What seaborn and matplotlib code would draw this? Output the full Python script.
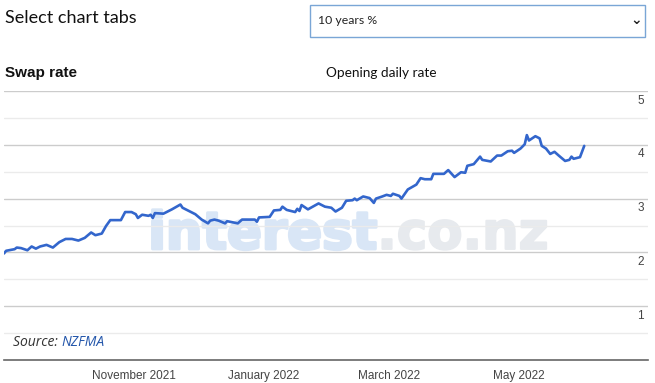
import matplotlib
matplotlib.use("Agg")
import matplotlib.pyplot as plt
import matplotlib.transforms as mtransforms
import matplotlib.patheffects as pe
from matplotlib.patches import Rectangle
import seaborn as sns
import pandas as pd
import numpy as np

dates = [
    "2021-09-01", "2021-09-02", "2021-09-06", "2021-09-07", "2021-09-09", "2021-09-12",
    "2021-09-14", "2021-09-16", "2021-09-18", "2021-09-21", "2021-09-24", "2021-09-27",
    "2021-09-30", "2021-10-03", "2021-10-06", "2021-10-09", "2021-10-12", "2021-10-14",
    "2021-10-17", "2021-10-19", "2021-10-21", "2021-10-26", "2021-10-28", "2021-10-31",
    "2021-11-02", "2021-11-03", "2021-11-05", "2021-11-08", "2021-11-09", "2021-11-10",
    "2021-11-11", "2021-11-15", "2021-11-19", "2021-11-23", "2021-11-24", "2021-11-30",
    "2021-12-03", "2021-12-06", "2021-12-07", "2021-12-09", "2021-12-11", "2021-12-14",
    "2021-12-15", "2021-12-20", "2021-12-22", "2021-12-28", "2021-12-29", "2021-12-30",
    "2022-01-04", "2022-01-06", "2022-01-09", "2022-01-10", "2022-01-12", "2022-01-16",
    "2022-01-17", "2022-01-18", "2022-01-19", "2022-01-22", "2022-01-27", "2022-01-30",
    "2022-02-02", "2022-02-04", "2022-02-07", "2022-02-09", "2022-02-12", "2022-02-13",
    "2022-02-14", "2022-02-17", "2022-02-20", "2022-02-22", "2022-02-23", "2022-02-26",
    "2022-02-28", "2022-03-02", "2022-03-03", "2022-03-06", "2022-03-07", "2022-03-10",
    "2022-03-14", "2022-03-16", "2022-03-18", "2022-03-21", "2022-03-22", "2022-03-27",
    "2022-03-29", "2022-04-01", "2022-04-04", "2022-04-06", "2022-04-07", "2022-04-10",
    "2022-04-13", "2022-04-14", "2022-04-18", "2022-04-21", "2022-04-23", "2022-04-26",
    "2022-04-28", "2022-04-29", "2022-05-02", "2022-05-04", "2022-05-05", "2022-05-06",
    "2022-05-09", "2022-05-11", "2022-05-12", "2022-05-14", "2022-05-16", "2022-05-18",
    "2022-05-20", "2022-05-23", "2022-05-25", "2022-05-26", "2022-05-27", "2022-05-30",
    "2022-06-01",
]
swap_rate = [
    1.98, 2.03, 2.06, 2.09, 2.08, 2.04,
    2.11, 2.07, 2.11, 2.14, 2.09, 2.19,
    2.25, 2.25, 2.22, 2.27, 2.37, 2.32,
    2.35, 2.49, 2.60, 2.60, 2.75, 2.75,
    2.71, 2.64, 2.70, 2.68, 2.70, 2.64,
    2.73, 2.72, 2.80, 2.89, 2.83, 2.71,
    2.61, 2.54, 2.59, 2.61, 2.59, 2.54,
    2.58, 2.54, 2.61, 2.61, 2.57, 2.65,
    2.66, 2.78, 2.79, 2.85, 2.79, 2.75,
    2.81, 2.77, 2.88, 2.80, 2.91, 2.85,
    2.83, 2.76, 2.83, 2.96, 2.97, 3.00,
    2.97, 3.04, 3.01, 2.92, 3.00, 3.04,
    3.07, 3.05, 3.09, 3.05, 3.00, 3.17,
    3.26, 3.38, 3.36, 3.36, 3.46, 3.46,
    3.53, 3.40, 3.49, 3.48, 3.61, 3.64,
    3.78, 3.72, 3.69, 3.80, 3.80, 3.88,
    3.89, 3.85, 3.93, 4.01, 4.18, 4.08,
    4.16, 4.12, 3.98, 3.93, 3.83, 3.87,
    3.80, 3.70, 3.72, 3.78, 3.74, 3.77,
    3.98,
]
tick_dates = ["2021-11-01", "2022-01-01", "2022-03-01", "2022-05-01"]
tick_labels = ["November 2021", "January 2022", "March 2022", "May 2022"]
y_ticks = [1, 2, 3, 4, 5]
y_tick_labels = ["1", "2", "3", "4", "5"]

sns.set_theme(style="white")
plt.rcParams["font.family"] = ["Liberation Sans", "DejaVu Sans"]

df = pd.DataFrame({"date": pd.to_datetime(dates), "rate": swap_rate})

W, H = 655, 383
fig = plt.figure(figsize=(W / 100, H / 100), dpi=100)
fig.patch.set_facecolor("white")

ax = fig.add_axes([4 / W, 23 / H, 644 / W, 269 / H])
ax.set_facecolor("none")

# watermark
blue_wm = "#d9e6f6"
grey_wm = "#e7eaee"
wm = ax.text(0.224, 0.413, "interest", transform=ax.transAxes, fontsize=37,
             fontweight="bold", family="DejaVu Sans", color=blue_wm, ha="left",
             va="baseline", zorder=0,
             path_effects=[pe.withStroke(linewidth=2.2, foreground=blue_wm)])
ax.annotate(".co.nz", xy=(1, 0), xycoords=wm, fontsize=37, fontweight="bold",
            family="DejaVu Sans", color=grey_wm, ha="left", va="bottom",
            zorder=0, annotation_clip=False,
            path_effects=[pe.withStroke(linewidth=1.5, foreground=grey_wm)])

sns.lineplot(data=df, x="date", y="rate", ax=ax, color="#3366cc",
             linewidth=1.9, zorder=3)

ax.set_xlim(pd.Timestamp("2021-09-01"), pd.Timestamp("2022-07-01"))
ax.set_ylim(0, 5)
ax.set_xlabel("")
ax.set_ylabel("")

ax.set_xticks(pd.to_datetime(tick_dates))
ax.set_xticklabels(tick_labels)
ax.tick_params(axis="x", length=0, pad=7, labelsize=8.5, labelcolor="#444444")

ax.yaxis.tick_right()
ax.set_yticks(y_ticks)
ax.set_yticklabels(y_tick_labels)
ax.set_yticks(np.arange(0.5, 5.0, 1.0), minor=True)
ax.tick_params(axis="y", which="both", length=0, pad=-3, labelsize=8.5,
               labelcolor="#444444")
offset = mtransforms.ScaledTranslation(0, -0.035, fig.dpi_scale_trans)
for lab in ax.get_yticklabels():
    lab.set_horizontalalignment("right")
    lab.set_verticalalignment("top")
    lab.set_transform(lab.get_transform() + offset)

ax.grid(axis="y", which="major", color="#cccccc", linewidth=1.0)
ax.grid(axis="y", which="minor", color="#ebebeb", linewidth=1.0)
ax.grid(axis="x", visible=False)
for s in ["top", "left", "right"]:
    ax.spines[s].set_visible(False)
ax.spines["bottom"].set_color("#666666")
ax.spines["bottom"].set_linewidth(1.2)

# Source text
src = ax.text(9 / 644, 0.065, "Source: ", transform=ax.transAxes, fontsize=10,
              style="italic", color="#333333", ha="left", va="center", family="Open Sans")
ax.annotate("NZFMA", xy=(1, 0), xycoords=src, fontsize=10,
            style="italic", color="#2255aa", ha="left", va="bottom", family="Open Sans")

# header texts
fig.text(5 / W, 1 - 18 / H, "Select chart tabs", fontsize=13, family="Lato",
         color="#111111", ha="left", va="center")
fig.text(5 / W, 1 - 73 / H, "Swap rate", fontsize=11, family="Liberation Sans",
         fontweight="bold", color="#111111", ha="left", va="center")
fig.text(326 / W, 1 - 73 / H, "Opening daily rate", fontsize=9.8, family="Lato",
         color="#111111", ha="left", va="center")

# dropdown box
box = Rectangle((310 / W, 1 - 37 / H), 335 / W, 32 / H, transform=fig.transFigure,
                facecolor="white", edgecolor="#7aa6d6", linewidth=1.0)
fig.patches.append(box)
fig.text(318 / W, 1 - 21 / H, "10 years %", fontsize=8.8, family="Lato",
         color="#222222", ha="left", va="center")
fig.text(636 / W, 1 - 20 / H, "\u2304", fontsize=10, family="DejaVu Sans",
         color="#222222", ha="center", va="center", fontweight="bold")

fig.savefig("out.png", dpi=100)
